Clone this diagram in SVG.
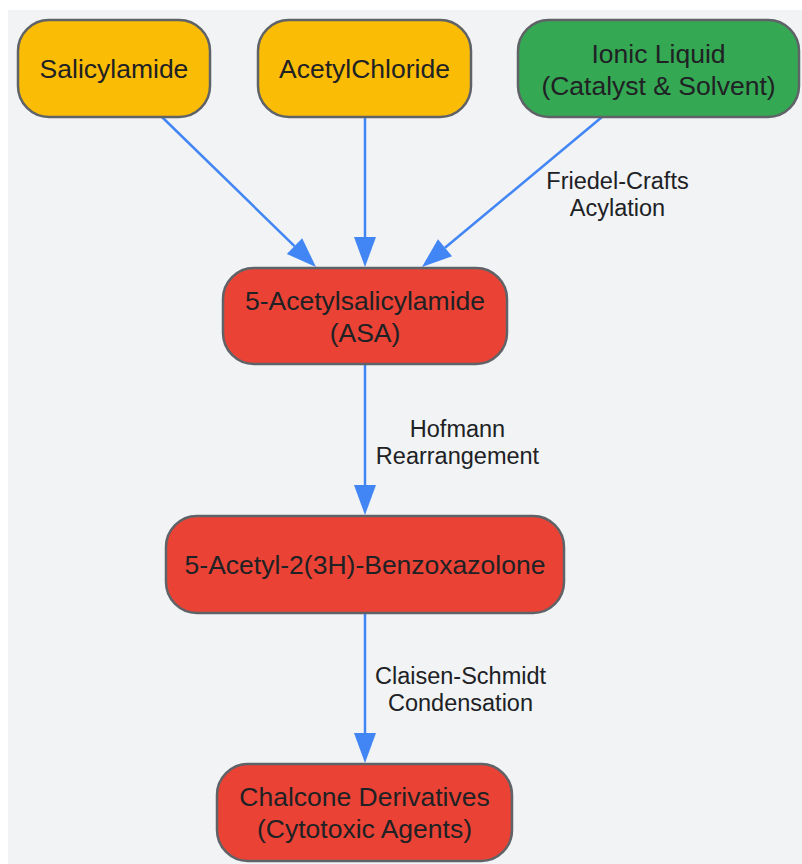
<svg xmlns="http://www.w3.org/2000/svg" width="802" height="864" viewBox="0 0 802 864">
<style>
.node rect{stroke:#5f6368;stroke-width:2.5}
.y rect{fill:#fbbc05}
.g rect{fill:#34a853}
.r rect{fill:#ea4335}
.node text{font-family:"Liberation Sans",Arial,sans-serif;font-size:26.5px;fill:#202124;text-anchor:middle}
.lbl{font-family:"Liberation Sans",Arial,sans-serif;font-size:23.5px;fill:#202124;text-anchor:middle}
.edges line{stroke:#4285f4;stroke-width:2.5;fill:none;marker-end:url(#ah)}
</style>
<defs>
<marker id="ah" markerUnits="userSpaceOnUse" markerWidth="31" markerHeight="24" refX="0" refY="11" orient="auto" overflow="visible">
<path d="M0,0 L30,11 L0,22 Z" fill="#4285f4"/>
</marker>
</defs>
<rect x="0" y="0" width="802" height="864" fill="#ffffff"/>
<rect x="8" y="10" width="794" height="854" fill="#f1f3f5"/>
<g class="edges" id="connectors">
<line x1="162" y1="117" x2="294.5" y2="246.1"/>
<line x1="365" y1="117" x2="365" y2="237"/>
<line x1="602" y1="117" x2="445" y2="247.8"/>
<line x1="365" y1="364" x2="365" y2="485"/>
<line x1="365" y1="613" x2="365" y2="733"/>
<text class="lbl" x="617.5" y="188.5">Friedel-Crafts</text>
<text class="lbl" x="617.5" y="215.5">Acylation</text>
<text class="lbl" x="457.5" y="437">Hofmann</text>
<text class="lbl" x="457.5" y="464">Rearrangement</text>
<text class="lbl" x="460.5" y="683.5">Claisen-Schmidt</text>
<text class="lbl" x="460.5" y="710.5">Condensation</text>
</g>
<g id="salicylamide" class="node y">
<rect x="18" y="20" width="192" height="97" rx="31"/>
<text x="114" y="78">Salicylamide</text>
</g>
<g id="acetylchloride" class="node y">
<rect x="258" y="20" width="213" height="97" rx="31"/>
<text x="364.5" y="78">AcetylChloride</text>
</g>
<g id="ionicliquid" class="node g">
<rect x="518" y="20" width="281" height="97" rx="31"/>
<text x="658.5" y="62.5">Ionic Liquid</text>
<text x="658.5" y="94.5">(Catalyst &amp; Solvent)</text>
</g>
<g id="asa" class="node r">
<rect x="223" y="268" width="284" height="96" rx="31"/>
<text x="365" y="310">5-Acetylsalicylamide</text>
<text x="365" y="342">(ASA)</text>
</g>
<g id="benzoxazolone" class="node r">
<rect x="166" y="516" width="398" height="97" rx="31"/>
<text x="365" y="574">5-Acetyl-2(3H)-Benzoxazolone</text>
</g>
<g id="chalcone" class="node r">
<rect x="217" y="764" width="295" height="97" rx="31"/>
<text x="364.5" y="806">Chalcone Derivatives</text>
<text x="364.5" y="838">(Cytotoxic Agents)</text>
</g>
</svg>
